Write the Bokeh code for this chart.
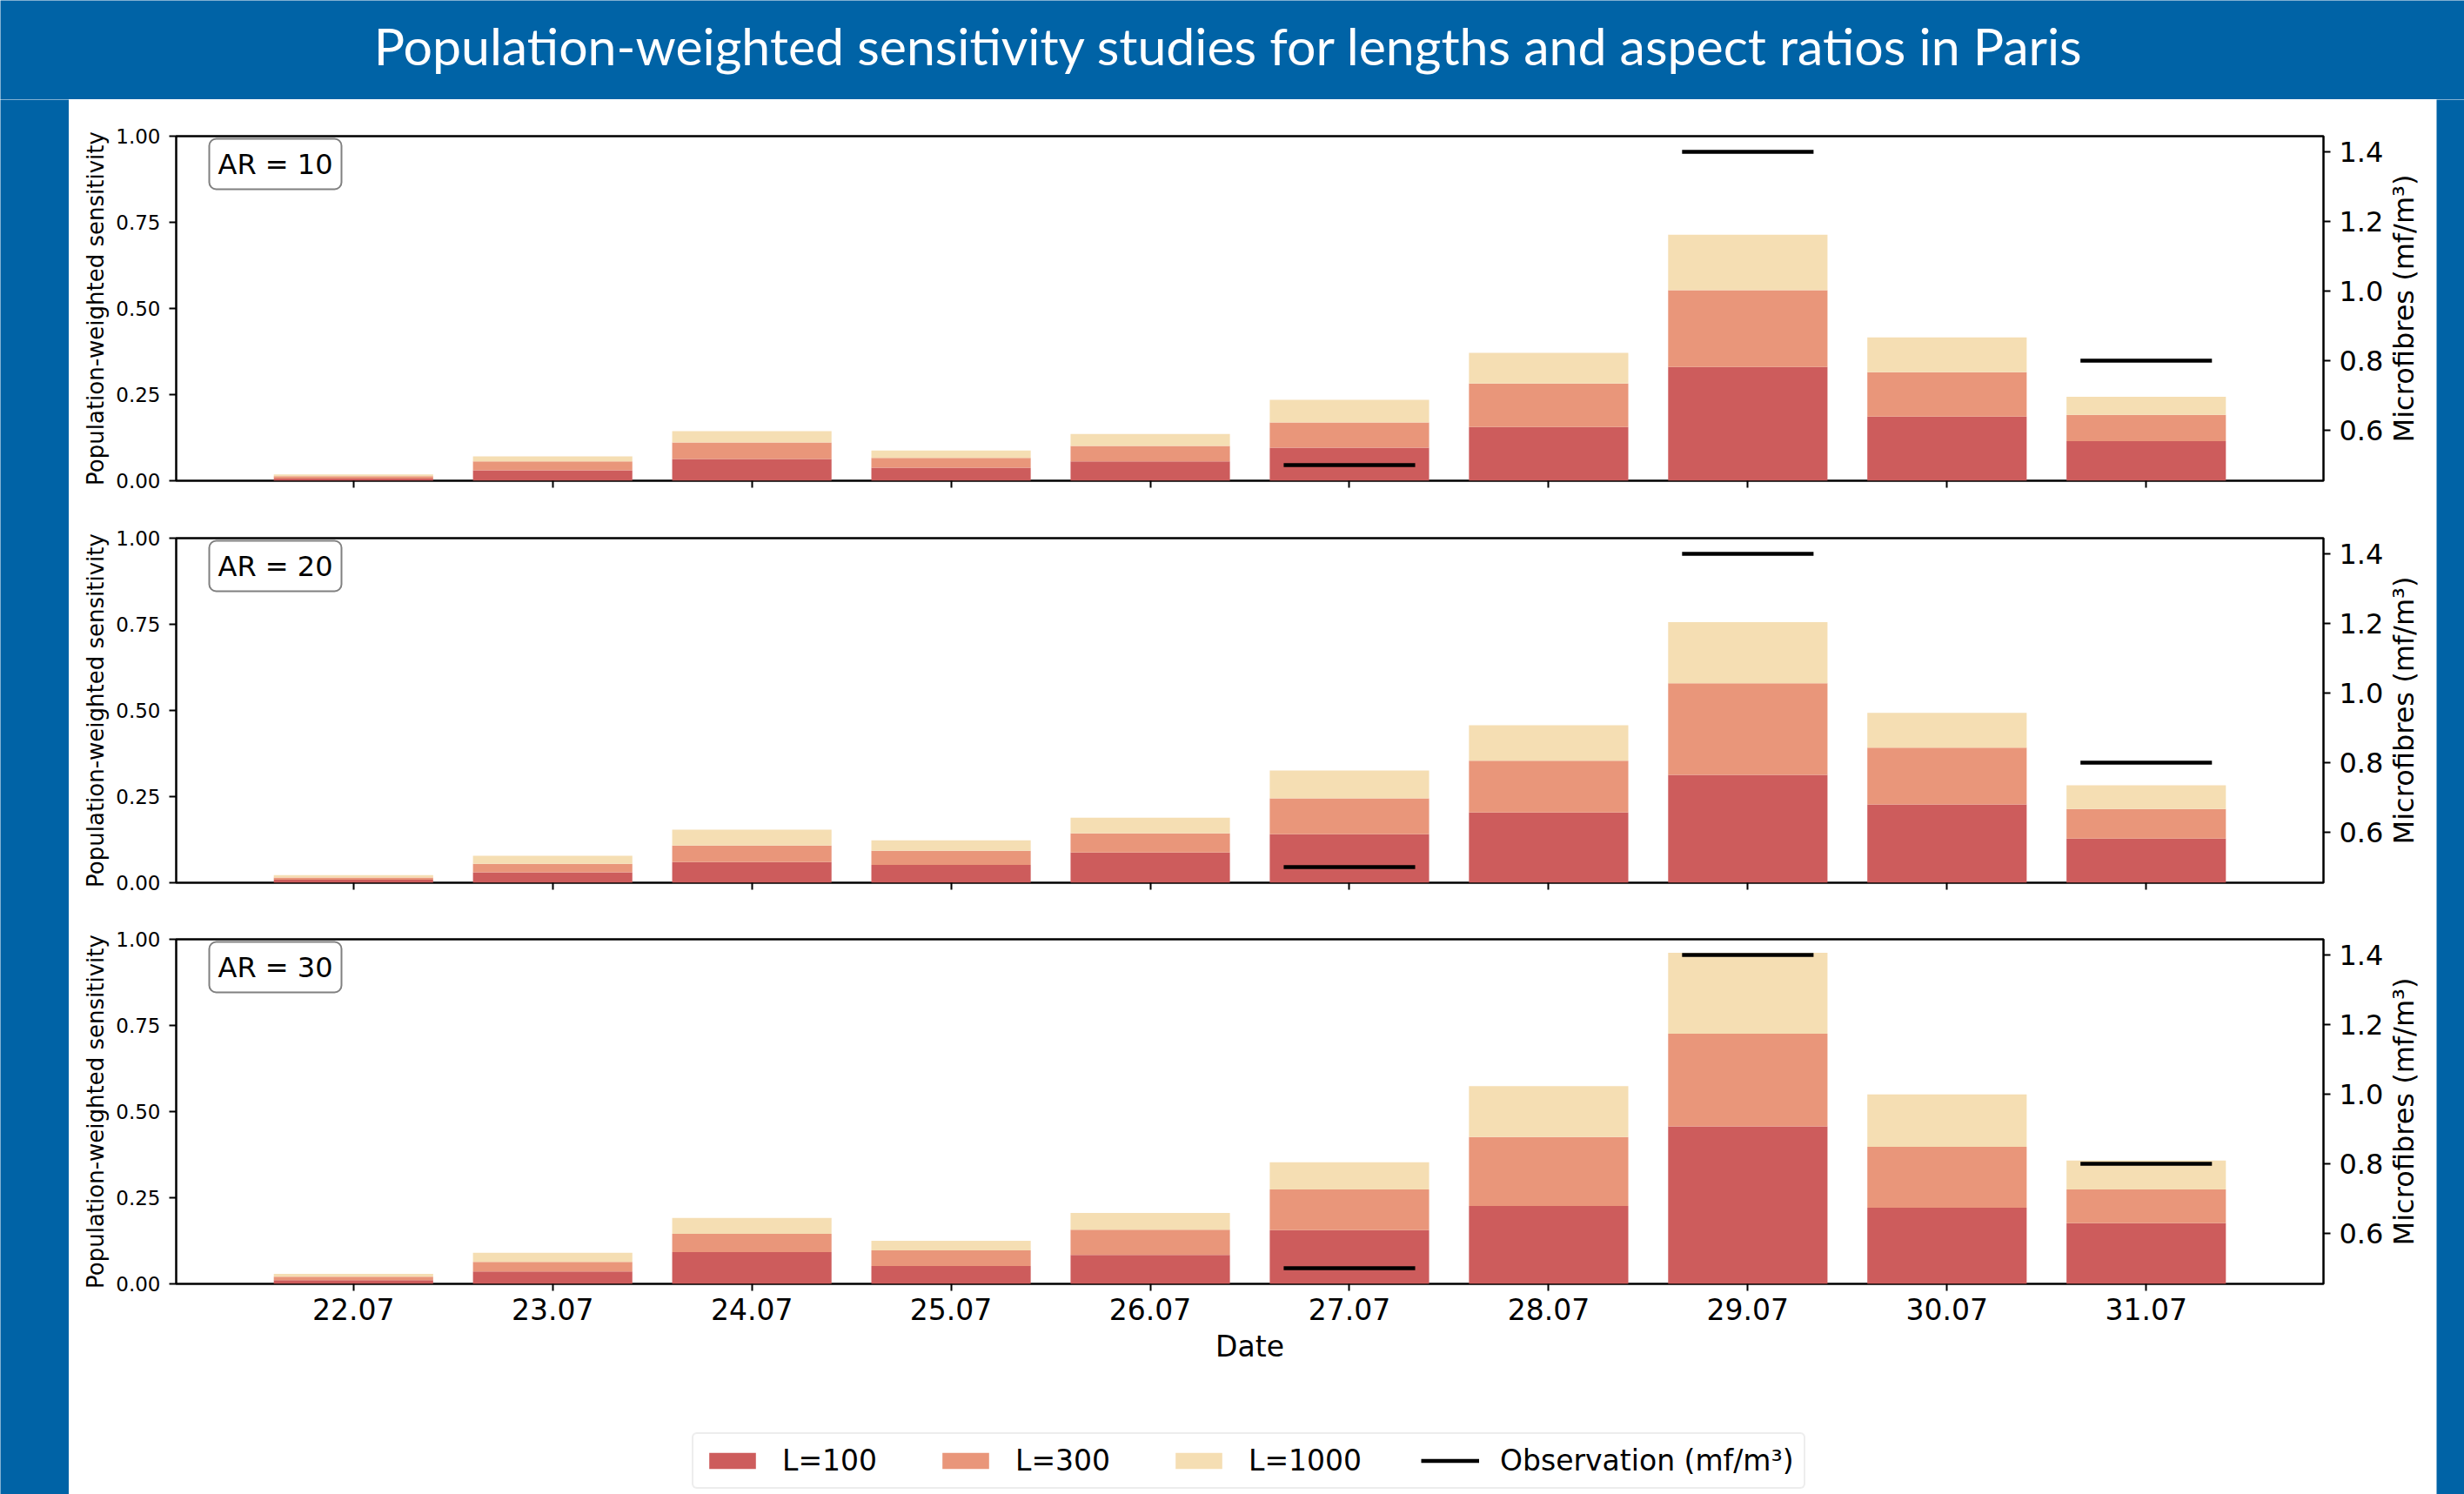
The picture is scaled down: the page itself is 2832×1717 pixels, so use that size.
import math
from bokeh.plotting import figure
from bokeh.layouts import column, row
from bokeh.models import (Range1d, LinearAxis, FixedTicker, ColumnDataSource, Label,
                          Legend, LegendItem, PrintfTickFormatter)
from bokeh.embed import file_html
from bokeh.resources import INLINE

# ---------------- data ----------------
dates = ["22.07", "23.07", "24.07", "25.07", "26.07", "27.07", "28.07", "29.07", "30.07", "31.07"]
aspect_ratios = [10, 20, 30]

# population-weighted sensitivity (units of 1e22)
ar10_l100 = [0.006, 0.030, 0.063, 0.038, 0.056, 0.096, 0.156, 0.330, 0.186, 0.115]
ar10_l300 = [0.007, 0.026, 0.048, 0.028, 0.045, 0.073, 0.126, 0.223, 0.129, 0.076]
ar10_l1000 = [0.005, 0.015, 0.033, 0.022, 0.035, 0.066, 0.089, 0.161, 0.101, 0.053]

ar20_l100 = [0.009, 0.030, 0.060, 0.052, 0.088, 0.141, 0.204, 0.313, 0.227, 0.128]
ar20_l300 = [0.006, 0.025, 0.048, 0.041, 0.055, 0.104, 0.150, 0.266, 0.165, 0.086]
ar20_l1000 = [0.007, 0.023, 0.046, 0.030, 0.046, 0.081, 0.103, 0.177, 0.101, 0.069]

ar30_l100 = [0.011, 0.036, 0.092, 0.052, 0.084, 0.156, 0.226, 0.457, 0.221, 0.176]
ar30_l300 = [0.010, 0.028, 0.053, 0.045, 0.073, 0.118, 0.200, 0.269, 0.177, 0.098]
ar30_l1000 = [0.008, 0.026, 0.046, 0.028, 0.049, 0.079, 0.148, 0.235, 0.152, 0.084]

obs_dates = ["27.07", "29.07", "31.07"]
obs_values = [0.5, 1.4, 0.8]  # mf/m3

left_ticks = [0.0, 0.25, 0.5, 0.75, 1.0]
right_ticks = [0.6, 0.8, 1.0, 1.2, 1.4]

series_labels = ["L=100", "L=300", "L=1000"]
obs_label = "Observation (mf/m³)"
title_text = "Population-weighted sensitivity studies for lengths and aspect ratios in Paris"

# ---------------- style ----------------
BLUE = "#0063A6"
COLORS = ["#CD5C5C", "#E9967A", "#F5DEB3"]
FONT = "DejaVu Sans"
TOTAL_W = 2832
TOTAL_H = 1717
TITLE_H = 114
LEFT_STRIP = 79
RIGHT_STRIP = 32
PANEL_W = TOTAL_W - LEFT_STRIP - RIGHT_STRIP
LABEL_W = 55
SUB_W = PANEL_W - LABEL_W
FRAME_H = 396
BORDER_L = 123
BORDER_R = 75
TOPS = [42, 46, 45]
BOTTOMS = [20, 20, 133]
LEG_H = TOTAL_H - TITLE_H - sum(TOPS) - sum(BOTTOMS) - 3 * FRAME_H


def style_axis(ax, tick_size, label_size, standoff, label_standoff):
    ax.axis_line_color = None
    ax.major_tick_out = 8
    ax.major_tick_in = 0
    ax.major_tick_line_width = 2
    ax.major_tick_line_color = "black"
    ax.minor_tick_line_color = None
    ax.major_label_text_font = FONT
    ax.major_label_text_font_size = tick_size
    ax.major_label_text_color = "black"
    ax.major_label_standoff = standoff
    ax.axis_label_text_font = FONT
    ax.axis_label_text_font_size = label_size
    ax.axis_label_text_font_style = "normal"
    ax.axis_label_text_color = "black"
    ax.axis_label_standoff = label_standoff


def plain(w, h, color):
    s = figure(width=w, height=h, output_backend="svg", toolbar_location=None, title=None,
               x_range=Range1d(0, 1), y_range=Range1d(0, 1),
               x_axis_location=None, y_axis_location=None, min_border=0,
               outline_line_color=None, background_fill_color=color, border_fill_color=color)
    s.grid.visible = False
    return s


def make_panel(ar, src, top_border, bottom_border, last):
    h = top_border + FRAME_H + bottom_border
    p = figure(width=SUB_W, height=h, output_backend="svg", toolbar_location=None, title=None,
               x_range=Range1d(-0.89, 9.89), y_range=Range1d(0, 1),
               min_border_left=BORDER_L, min_border_right=BORDER_R,
               min_border_top=top_border, min_border_bottom=bottom_border,
               background_fill_color="white", border_fill_color="white",
               outline_line_color="black", outline_line_width=2.5)
    p.grid.visible = False
    p.extra_y_ranges = {"obs": Range1d(0.455, 1.445)}

    p.vbar_stack(["l100", "l300", "l1000"], x="x", width=0.8, source=src,
                 fill_color=COLORS, line_color=None)

    idx = [dates.index(d) for d in obs_dates]
    osrc = ColumnDataSource(dict(x0=[i - 0.33 for i in idx], x1=[i + 0.33 for i in idx], y=obs_values))
    p.segment(x0="x0", y0="y", x1="x1", y1="y", source=osrc, y_range_name="obs",
              line_color="black", line_width=4.5)

    # left axis
    yax = p.yaxis[0]
    yax.ticker = FixedTicker(ticks=left_ticks)
    yax.formatter = PrintfTickFormatter(format="%.2f")
    yax.axis_label = "Population-weighted sensitivity"
    style_axis(yax, "23px", "26px", 10, 5)

    # right axis
    rax = LinearAxis(y_range_name="obs", ticker=FixedTicker(ticks=right_ticks),
                     formatter=PrintfTickFormatter(format="%.1f"))
    style_axis(rax, "32px", "32px", 10, 9)
    p.add_layout(rax, "right")

    # bottom axis
    xax = p.xaxis[0]
    xax.ticker = FixedTicker(ticks=list(range(len(dates))))
    if last:
        xax.major_label_overrides = {i: d for i, d in enumerate(dates)}
        xax.axis_label = "Date"
        style_axis(xax, "33px", "33px", 8, 8)
    else:
        xax.major_label_overrides = {i: "" for i in range(len(dates))}
        style_axis(xax, "1px", "1px", 0, 0)

    # offset text and AR box
    p.add_layout(Label(x=0, y=FRAME_H + 1, x_units="screen", y_units="screen", text="1e22",
                       text_font=FONT, text_font_size="22px", text_align="left",
                       text_baseline="bottom", text_color="black"))
    p.add_layout(Label(x=38, y=FRAME_H - 3, x_units="screen", y_units="screen", text=f"AR = {ar}",
                       text_font=FONT, text_font_size="32px", text_align="left", text_baseline="top",
                       text_color="black", background_fill_color="white",
                       border_line_color="#808080", border_line_width=2,
                       padding=10, border_radius=8))

    # right-hand axis title (separate strip so it reads bottom-to-top);
    # its frame is aligned with the panel frame in the row
    lab = plain(LABEL_W, h, "white")
    lab.add_layout(Label(x=17, y=FRAME_H / 2, x_units="screen", y_units="screen",
                         text="Microfibres (mf/m³)", angle=math.pi / 2,
                         text_font=FONT, text_font_size="32px", text_color="black",
                         text_align="center", text_baseline="middle"))
    return row(p, lab)


sources = [ColumnDataSource(dict(x=list(range(len(dates))), l100=a, l300=b, l1000=c))
           for a, b, c in [(ar10_l100, ar10_l300, ar10_l1000),
                           (ar20_l100, ar20_l300, ar20_l1000),
                           (ar30_l100, ar30_l300, ar30_l1000)]]

panels = [make_panel(aspect_ratios[k], sources[k], TOPS[k], BOTTOMS[k], k == 2) for k in range(3)]

# legend strip
lp = plain(PANEL_W, LEG_H, "white")
lbars = lp.vbar_stack(["l100", "l300", "l1000"], x="x", width=0.8, source=sources[2],
                      fill_color=COLORS, line_color=None, visible=False)
idx = [dates.index(d) for d in obs_dates]
lsrc = ColumnDataSource(dict(x0=[i - 0.33 for i in idx], x1=[i + 0.33 for i in idx], y=obs_values))
lseg = lp.segment(x0="x0", y0="y", x1="x1", y1="y", source=lsrc,
                  line_color="black", line_width=4.5, visible=False)
legend = Legend(items=[LegendItem(label=series_labels[0], renderers=[lbars[0]]),
                       LegendItem(label=series_labels[1], renderers=[lbars[1]]),
                       LegendItem(label=series_labels[2], renderers=[lbars[2]]),
                       LegendItem(label=obs_label, renderers=[lseg])],
                orientation="horizontal", location=(716, 6),
                label_text_font=FONT, label_text_font_size="33px", label_text_color="black",
                glyph_width=67, glyph_height=23, label_standoff=24, spacing=68,
                padding=11, margin=0, border_line_color="#dcdcdc", border_line_width=2,
                background_fill_color="white", background_fill_alpha=1.0,
                inactive_fill_alpha=0.0)
if "border_radius" in Legend.properties():
    legend.border_radius = 6
lp.add_layout(legend)

# title strip
tp = plain(TOTAL_W, TITLE_H, BLUE)
tp.add_layout(Label(x=1412, y=62, x_units="screen", y_units="screen", text=title_text,
                    text_font="Lato", text_font_size="59px", text_color="white",
                    text_align="center", text_baseline="middle"))

body_h = TOTAL_H - TITLE_H
page = column(tp, row(plain(LEFT_STRIP, body_h, BLUE),
                      column(*panels, lp),
                      plain(RIGHT_STRIP, body_h, BLUE)))

open("out.html", "w").write(file_html(page, INLINE))
